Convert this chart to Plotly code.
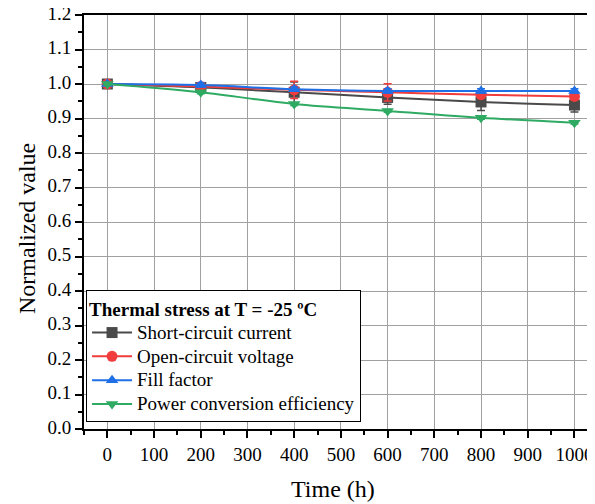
import plotly.graph_objects as go

time_h = [0, 200, 400, 600, 800, 1000]
jsc = [1.0, 0.990, 0.976, 0.961, 0.948, 0.939]
jsc_err = [0.003, 0.008, 0.030, 0.020, 0.025, 0.020]
voc = [1.0, 0.993, 0.983, 0.976, 0.969, 0.964]
voc_err = [0.003, 0.006, 0.025, 0.025, 0.010, 0.010]
ff = [1.0, 0.997, 0.985, 0.980, 0.980, 0.980]
ff_err = [0.004, 0.006, 0.006, 0.006, 0.006, 0.006]
pce = [1.0, 0.976, 0.942, 0.922, 0.902, 0.888]
pce_err = [0.003, 0.004, 0.004, 0.004, 0.004, 0.004]

names = ["Short-circuit current", "Open-circuit voltage", "Fill factor", "Power conversion efficiency"]
colors = ["#4a4a4a", "#f03c3c", "#1f6fe6", "#2eaa62"]
symbols = ["square", "circle", "triangle-up", "triangle-down"]
series = [(jsc, jsc_err), (voc, voc_err), (ff, ff_err), (pce, pce_err)]

FF = "Liberation Serif"

fig = go.Figure()
for (vals, err), name, c, s in zip(series, names, colors, symbols):
    fig.add_trace(go.Scatter(
        x=time_h, y=vals, name=f'<span style="font-size:19px">{name}</span>', mode="lines+markers",
        line=dict(color=c, width=2, shape="spline"),
        marker=dict(symbol=s, size=11, color=c),
        error_y=dict(type="data", array=err, color=c, thickness=1.5, width=4),
    ))

# page body adds an 8px margin, so the figure is sized/positioned to compensate
fig.update_layout(
    width=587, height=496,
    margin=dict(l=76, r=0, t=7, b=75),
    plot_bgcolor="white", paper_bgcolor="white",
    font=dict(family=FF, size=19, color="black"),
    showlegend=True,
    legend=dict(
        x=0.004, y=0.017, xanchor="left", yanchor="bottom",
        bgcolor="white", bordercolor="black", borderwidth=1,
        font=dict(family=FF, size=16, color="black"),
        title=dict(text="<b>Thermal stress at T = -25 ºC</b>", font=dict(family=FF, size=19, color="black")),
        tracegroupgap=0, itemwidth=40,
    ),
    xaxis=dict(
        range=[-50, 1044], tickmode="array",
        tickvals=list(range(0, 1001, 100)),
        ticks="outside", ticklen=7, tickwidth=1.5, tickcolor="black",
        minor=dict(ticks="outside", ticklen=4, tickwidth=1.5, tickcolor="black", dtick=50, tick0=0, showgrid=False),
        showline=True, linecolor="black", linewidth=2, mirror=True,
        showgrid=True, gridcolor="#a0a0a0", gridwidth=1,
        zeroline=False, automargin=False, ticklabeloverflow="allow",
        tickfont=dict(family=FF, size=19, color="black"),
    ),
    yaxis=dict(
        range=[0, 1.2], tickmode="array",
        tickvals=[i / 10 for i in range(0, 13)],
        ticktext=[f"{i/10:.1f}" for i in range(0, 13)],
        ticks="outside", ticklen=7, tickwidth=1.5, tickcolor="black",
        minor=dict(ticks="outside", ticklen=4, tickwidth=1.5, tickcolor="black", dtick=0.05, tick0=0, showgrid=False),
        showline=True, linecolor="black", linewidth=2,
        showgrid=True, gridcolor="#a0a0a0", gridwidth=1,
        zeroline=False, automargin=False, ticklabeloverflow="allow", ticklabelshift=-2,
        tickfont=dict(family=FF, size=19, color="black"),
    ),
    annotations=[
        dict(text="Time (h)", xref="paper", yref="paper", x=(333 - 84) / 511, y=-(489 - 429) / 414,
             xanchor="center", yanchor="middle", showarrow=False, font=dict(family=FF, size=24, color="black")),
        dict(text="Normalized value", xref="paper", yref="paper", x=-(84 - 27) / 511, y=(429 - 229) / 414,
             xanchor="center", yanchor="middle", textangle=-90, showarrow=False,
             font=dict(family=FF, size=24, color="black")),
    ],
)

fig.write_html("out.html")
